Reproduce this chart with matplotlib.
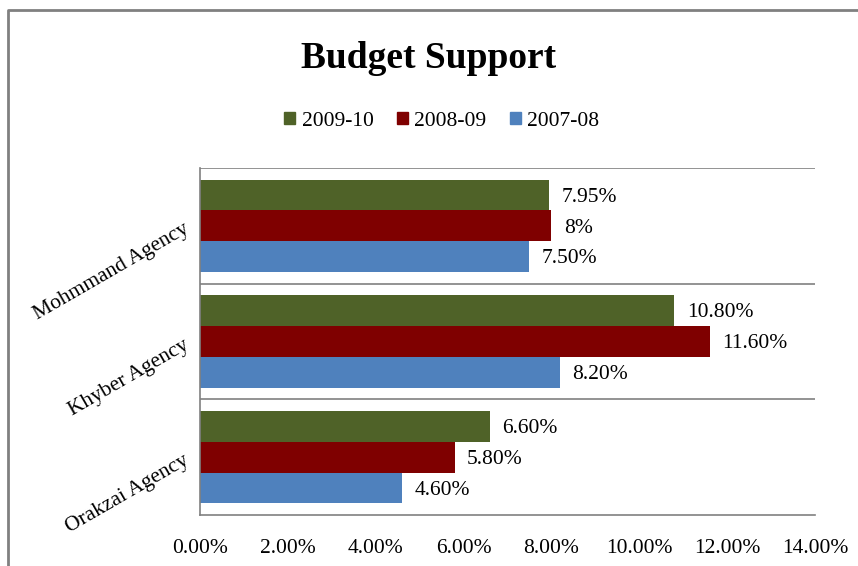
import matplotlib
matplotlib.use("Agg")
import matplotlib.pyplot as plt
import numpy as np
from matplotlib.lines import Line2D

categories = ["Orakzai Agency", "Khyber Agency", "Mohmmand Agency"]
series_names = ["2009-10", "2008-09", "2007-08"]
values = {
    "2009-10": [6.60, 10.80, 7.95],
    "2008-09": [5.80, 11.60, 8.00],
    "2007-08": [4.60, 8.20, 7.50],
}
value_labels = {
    "2009-10": ["6.60%", "10.80%", "7.95%"],
    "2008-09": ["5.80%", "11.60%", "8%"],
    "2007-08": ["4.60%", "8.20%", "7.50%"],
}
colors = {"2009-10": "#4F6228", "2008-09": "#7F0000", "2007-08": "#4F81BD"}
xticks = [0, 2, 4, 6, 8, 10, 12, 14]
xtick_labels = ["0.00%", "2.00%", "4.00%", "6.00%", "8.00%", "10.00%", "12.00%", "14.00%"]

plt.rcParams['font.family'] = ['Liberation Serif', 'DejaVu Serif']

fig = plt.figure(figsize=(8.58, 5.66), dpi=100)
ax = fig.add_axes([200/858, 1-515/566, 615/858, (515-168)/566])

bar_h = 0.8/3
y = np.arange(len(categories))
offsets = {"2009-10": bar_h, "2008-09": 0.0, "2007-08": -bar_h}
for s in series_names:
    ax.barh(y + offsets[s], values[s], height=bar_h, color=colors[s], label=s)
    for yi, v, lab in zip(y, values[s], value_labels[s]):
        ax.text(v + 0.28, yi + offsets[s] - 0.02, lab, va='center', ha='left', fontsize=15.5)

ax.set_xlim(0, 14)
ax.set_ylim(-0.5, len(categories) - 0.5)
ax.set_xticks(xticks)
ax.set_xticklabels(xtick_labels, fontsize=15.5)
ax.set_yticks(y)
ax.set_yticklabels(categories, rotation=30, fontsize=15.5, ha='right', rotation_mode='anchor')
ax.tick_params(axis='both', length=0)
ax.tick_params(axis='x', pad=17)
ax.tick_params(axis='y', pad=10)
for b in [0.5, 1.5, 2.5]:
    ax.axhline(b, color='#808080', lw=1.2)
for sp in ['top', 'right']:
    ax.spines[sp].set_visible(False)
for sp in ['left', 'bottom']:
    ax.spines[sp].set_color('#808080')
    ax.spines[sp].set_linewidth(1.2)

fig.text(0.5, 1-59/566, "Budget Support", ha='center', va='center', fontsize=27, fontweight='bold')
handles = [plt.Rectangle((0, 0), 1, 1, color=colors[s]) for s in series_names]
fig.legend(handles, series_names, loc='center', bbox_to_anchor=(0.515, 1-121/566), ncol=3,
           frameon=False, fontsize=15.5, handlelength=0.5, handleheight=0.5, handletextpad=0.3,
           columnspacing=1.1)

# outer chart border (partially visible)
fig.add_artist(Line2D([8/858, 8/858, 1.0], [0.0, 1-10/566, 1-10/566], transform=fig.transFigure,
                      color='#808080', lw=2))

fig.savefig("out.png", dpi=100)
